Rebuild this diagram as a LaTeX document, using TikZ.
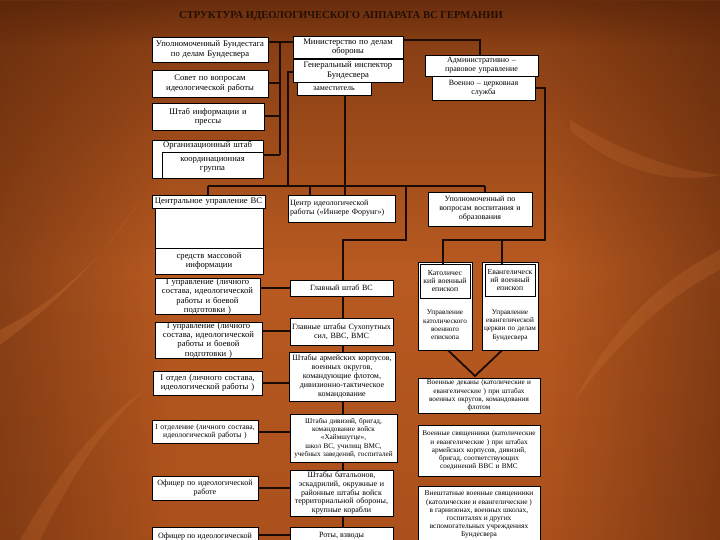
\documentclass[tikz,border=0pt]{standalone}
\usepackage{fontspec}
\setmainfont{Liberation Serif}
\usetikzlibrary{calc,fadings}
\definecolor{bgTop}{RGB}{128,58,18}
\definecolor{bgMid}{RGB}{184,90,33}
\definecolor{bgBot}{RGB}{170,80,28}
\definecolor{bgDark}{RGB}{80,32,8}
\definecolor{lineC}{RGB}{28,10,4}
\definecolor{titleC}{RGB}{35,14,6}
\definecolor{streak}{RGB}{215,125,62}
\tikzfading[name=fadeR, left color=transparent!0, right color=transparent!100]
\tikzfading[name=fadeL, left color=transparent!100, right color=transparent!0]
\tikzfading[name=fadeD, top color=transparent!0, bottom color=transparent!100]
\newcommand{\bx}[7][]{%
  \pgfmathsetmacro\bxW{#5-#3}%
  \pgfmathsetmacro\bxH{#6-#4}%
  \pgfmathsetmacro\bxT{#5-#3-4}%
  \pgfmathsetmacro\bxX{(#3+#5)/2}%
  \pgfmathsetmacro\bxY{(#4+#6)/2}%
  \node[box,minimum width=\bxW pt,minimum height=\bxH pt,text width=\bxT pt,#1] (#2) at (\bxX,\bxY) {#7};}
\begin{document}
\begin{tikzpicture}[x=1pt,y=-1pt,
  box/.style={draw=black,line width=0.6pt,fill=white,inner sep=0pt,inner xsep=2pt,align=center,
    font=\fontsize{8.6}{9.3}\selectfont},
  mid/.style={font=\fontsize{8}{8.9}\selectfont},
  sml/.style={font=\fontsize{7.7}{8.4}\selectfont},
  tiny/.style={font=\fontsize{7.2}{8.3}\selectfont},
  conn/.style={draw=lineC,line width=1.8pt}]
\useasboundingbox (0,0) rectangle (720,540);
% background
\shade[top color=bgTop, bottom color=bgBot, middle color=bgMid] (0,0) rectangle (720,540);
\fill[bgDark,path fading=fadeR,opacity=0.45] (0,0) rectangle (170,540);
\fill[bgDark,path fading=fadeL,opacity=0.5] (550,0) rectangle (720,540);
\fill[bgDark,path fading=fadeD,opacity=0.5] (0,0) rectangle (720,45);
\fill[streak,opacity=0.25] (0,330) .. controls (60,300) and (110,250) .. (140,200) .. controls (100,260) and (60,300) .. (0,345) -- cycle;
\fill[streak,opacity=0.2] (20,540) .. controls (60,470) and (100,420) .. (145,390) .. controls (100,430) and (70,480) .. (40,540) -- cycle;
\fill[streak,opacity=0.2] (720,250) .. controls (660,280) and (610,330) .. (575,400) .. controls (620,340) and (670,295) .. (720,270) -- cycle;
\fill[streak,opacity=0.18] (570,120) .. controls (620,150) and (670,170) .. (720,175) .. controls (670,185) and (615,170) .. (570,130) -- cycle;
% title
\node[font=\fontsize{10.6}{12}\selectfont\bfseries,text=titleC] (title) at (341,16) {СТРУКТУРА ИДЕОЛОГИЧЕСКОГО АППАРАТА ВС ГЕРМАНИИ};
% left column
\bx{b1}{152}{37}{268}{62}{Уполномоченный Бундестага\\по делам Бундесвера}
\bx{b2}{152}{70}{268}{97}{Совет по вопросам\\идеологической работы}
\bx{b3}{152}{103}{264}{130}{Штаб информации и\\прессы}
\bx[text depth=29pt]{org}{152}{140}{263}{178}{Организационный штаб}
\bx{coord}{162}{152}{263}{178}{координационная\\группа}
\bx{cu}{152}{195}{265}{208}{Центральное управление ВС}
\bx{cuin}{155}{208}{263}{248}{}
\bx{smi}{155}{248}{263}{274}{средств массовой\\информации}
\bx{b6}{155}{279}{260}{314}{I управление (личного\\состава, идеологической\\работы и боевой\\подготовки )}
\bx{b7}{155}{322}{262}{358}{I управление (личного\\состава, идеологической\\работы и боевой\\подготовки )}
\bx{b8}{153}{371}{262}{395}{I отдел (личного состава,\\идеологической работы )}
\bx[sml]{b9}{152}{420}{258}{443}{I отделение (личного состава,\\идеологической работы )}
\bx[mid]{b10}{152}{476}{258}{500}{Офицер по идеологической\\работе}
\bx[mid]{b11}{152}{527}{258}{552}{}
\node[mid,anchor=north] (b11t) at (205,529) {Офицер по идеологической};
% middle column
\bx{m1}{293}{36}{403}{58}{Министерство по делам\\обороны}
\bx{m2}{293}{59}{403}{82}{Генеральный инспектор\\Бундесвера}
\bx[mid]{m3}{297}{82}{371}{95}{заместитель}
\bx[mid,align=left]{m4}{288}{195}{395}{222}{Центр идеологической\\работы («Иннере Форунг»)}
\bx[mid]{m5}{290}{280}{393}{296}{Главный штаб ВС}
\bx[mid]{m6}{290}{318}{393}{345}{Главные штабы Сухопутных\\сил, ВВС, ВМС}
\bx[mid]{m7}{289}{352}{395}{401}{Штабы армейских корпусов,\\военных округов,\\командующие флотом,\\дивизионно-тактическое\\командование}
\bx[tiny,inner xsep=0.5pt]{m8}{290}{414}{397}{462}{Штабы дивизий, бригад,\\командование войск\\«Хаймшутце»,\\школ ВС, училищ ВМС,\\учебных заведений, госпиталей}
\bx[mid]{m9}{290}{470}{393}{516}{Штабы батальонов,\\эскадрилий, окружные и\\районные штабы войск\\территориальной обороны,\\крупные корабли}
\bx[mid]{m10}{290}{527}{393}{552}{}
\node[mid,anchor=north] (m10t) at (341.5,529) {Роты, взводы};
% right column
\bx[mid]{r1}{425}{55}{538}{76}{Административно –\\правовое управление}
\bx[mid]{r2}{432}{76}{535}{100}{Военно – церковная\\служба}
\bx[mid]{r3}{428}{192}{532}{226}{Уполномоченный по\\вопросам воспитания и\\образования}
\bx{kout}{418}{262}{472}{350}{}
\bx[sml]{k1}{420}{264}{470}{298}{Католичес\\кий военный\\епископ}
\node[tiny,align=center,text width=54pt] (k2) at (445,325) {Управление\\католического\\военного\\епископа};
\bx{eout}{482}{262}{538}{350}{}
\bx[sml]{e1}{485}{264}{535}{296}{Евангелическ\\ий военный\\епископ}
\node[tiny,align=center,text width=60pt] (e2) at (510,325) {Управление\\евангелической\\церкви по делам\\Бундесвера};
\bx[tiny,inner xsep=0.5pt]{r6}{418}{378}{540}{413}{Военные деканы (католические и\\евангелические ) при штабах\\военных округов, командования\\флотом}
\bx[tiny,inner xsep=0.5pt]{r7}{418}{425}{540}{476}{Военные священники (католические\\и евангелические ) при штабах\\армейских корпусов, дивизий,\\бригад, соответствующих\\соединений ВВС и ВМС}
\bx{r8}{418}{486}{540}{552}{}
\node[font=\fontsize{7.4}{8.15}\selectfont,align=center,anchor=north] (r8t) at (479,487.5) {Внештатные военные священники\\(католические и евангелические )\\в гарнизонах, военных школах,\\госпиталях и других\\вспомогательных учреждениях\\Бундесвера};
% connectors
\draw[conn] (b1.east |- 0,42) -- (m1.west |- 0,42);
\draw[conn] (280,42) -- (280,155);
\draw[conn] (b2.east |- 0,83) -- (280,83);
\draw[conn] (b3.east |- 0,116) -- (280,116);
\draw[conn] (coord.east |- 0,155) -- (280,155);
\draw[conn] (m2.west |- 0,72) -- (288,72) -- (288,186);
\draw[conn] (208,186) -- (485,186);
\draw[conn] (208,186) -- (cu.north -| 208,0);
\draw[conn] (m3.south -| 345,0) -- (m4.north -| 345,0);
\draw[conn] (310,186) -- (m4.north -| 310,0);
\draw[conn] (485,186) -- (r3.north -| 485,0);
\draw[conn] (406,186) -- (406,240) -- (343,240) -- (m5.north -| 343,0);
\draw[conn] (m1.east |- 0,40) -- (480,40) -- (r1.north -| 480,0);
\draw[conn] (r2.east |- 0,88) -- (545,88) -- (545,240) -- (443,240) -- (k1.north -| 443,0);
\draw[conn] (502,240) -- (e1.north -| 502,0);
\coordinate (vtip) at (475,376);
\draw[conn] (kout.south -| 448,0) -- (vtip) -- (eout.south -| 502,0);
\draw[conn] (m5.south -| 343,0) -- (m6.north -| 343,0);
\draw[conn] (m6.south -| 343,0) -- (m7.north -| 343,0);
\draw[conn] (m7.south -| 343,0) -- (m8.north -| 343,0);
\draw[conn] (m8.south -| 343,0) -- (m9.north -| 343,0);
\draw[conn] (m9.south -| 343,0) -- (m10.north -| 343,0);
\draw[conn] (b6.east |- 0,288) -- (m5.west |- 0,288);
\draw[conn] (b7.east |- 0,331) -- (m6.west |- 0,331);
\draw[conn] (b8.east |- 0,383) -- (m7.west |- 0,383);
\draw[conn] (b9.east |- 0,432) -- (m8.west |- 0,432);
\draw[conn] (b10.east |- 0,488) -- (m9.west |- 0,488);
\draw[conn] (b11.east |- 0,535) -- (m10.west |- 0,535);
\end{tikzpicture}
\end{document}
